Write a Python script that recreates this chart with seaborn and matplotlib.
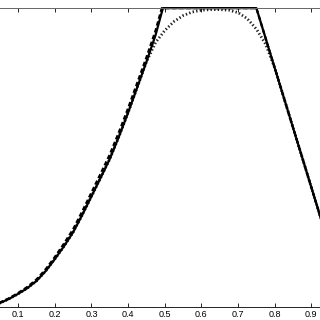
import matplotlib
matplotlib.use("Agg")
import matplotlib.pyplot as plt
import seaborn as sns
import pandas as pd

# ---- data ----
x_solid = [0.0, 0.025, 0.05, 0.075, 0.10, 0.125, 0.15, 0.175, 0.20, 0.225, 0.25, 0.275,
           0.30, 0.325, 0.35, 0.375, 0.40, 0.425, 0.45, 0.475, 0.495,
           0.55, 0.60, 0.65, 0.70, 0.75, 0.80, 0.85, 0.90, 0.95, 1.0]
y_solid = [0.0, 0.004, 0.013, 0.027, 0.044, 0.063, 0.087, 0.12, 0.16, 0.203, 0.25, 0.308,
           0.37, 0.432, 0.495, 0.57, 0.65, 0.735, 0.82, 0.91, 1.0,
           1.0, 1.0, 1.0, 1.0, 1.0, 0.80, 0.60, 0.40, 0.20, 0.0]

x_dashed = [0.0, 0.025, 0.05, 0.075, 0.10, 0.125, 0.15, 0.175, 0.20, 0.225, 0.25, 0.275,
            0.30, 0.325, 0.35, 0.375, 0.40, 0.425, 0.45, 0.475, 0.492,
            0.55, 0.60, 0.65, 0.70, 0.75, 0.80, 0.85, 0.90, 0.95, 1.0]
y_dashed = [0.0, 0.005, 0.015, 0.029, 0.047, 0.067, 0.092, 0.126, 0.167, 0.212, 0.26, 0.32,
            0.383, 0.446, 0.51, 0.585, 0.665, 0.75, 0.835, 0.925, 1.0,
            1.0, 1.0, 1.0, 1.0, 1.0, 0.80, 0.60, 0.40, 0.20, 0.0]

x_dotted = [0.0, 0.025, 0.05, 0.075, 0.10, 0.125, 0.15, 0.175, 0.20, 0.225, 0.25, 0.275,
            0.30, 0.325, 0.35, 0.375, 0.40, 0.425, 0.45, 0.475, 0.50, 0.525, 0.55, 0.575,
            0.60, 0.625, 0.65, 0.675, 0.70, 0.725, 0.75, 0.775, 0.80, 0.85, 0.90, 0.95, 1.0]
y_dotted = [0.0, 0.004, 0.013, 0.027, 0.044, 0.063, 0.087, 0.12, 0.16, 0.203, 0.25, 0.308,
            0.37, 0.432, 0.495, 0.57, 0.65, 0.735, 0.82, 0.885, 0.925, 0.955, 0.975, 0.987,
            0.993, 0.995, 0.995, 0.993, 0.985, 0.965, 0.93, 0.88, 0.80, 0.60, 0.40, 0.20, 0.0]

x_ticks = [0.1, 0.2, 0.3, 0.4, 0.5, 0.6, 0.7, 0.8, 0.9]
x_tick_labels = ["0.1", "0.2", "0.3", "0.4", "0.5", "0.6", "0.7", "0.8", "0.9"]

sns.set_style("ticks")
plt.rcParams['font.family'] = ['Liberation Sans', 'DejaVu Sans']

fig = plt.figure(figsize=(3.2, 3.2), dpi=100)
ax = fig.add_axes([-0.058, 0.0406, 1.1456, 0.934])

sns.lineplot(x=x_dotted, y=y_dotted, ax=ax, color="#222222", linewidth=2.0,
             linestyle=(0, (0.5, 0.8)), clip_on=False, sort=False)
sns.lineplot(x=x_solid, y=y_solid, ax=ax, color="black", linewidth=1.6,
             clip_on=False, sort=False)
sns.lineplot(x=x_dashed, y=y_dashed, ax=ax, color="black", linewidth=1.6,
             linestyle=(0, (2.0, 1.2)), clip_on=False, sort=False)

ax.set_xlim(0, 1)
ax.set_ylim(0, 1)
ax.set_xticks(x_ticks)
ax.set_xticklabels(x_tick_labels)
ax.set_yticks([])
ax.tick_params(axis="x", direction="in", length=3, width=0.6, top=True,
               labelsize=6.5, pad=2, colors="black")
for s in ax.spines.values():
    s.set_visible(True)
    s.set_linewidth(0.7)
ax.spines["bottom"].set_color("#222222")
ax.spines["top"].set_color("#666666")
ax.set_xlabel("")
ax.set_ylabel("")

fig.savefig("out.png", dpi=100)
